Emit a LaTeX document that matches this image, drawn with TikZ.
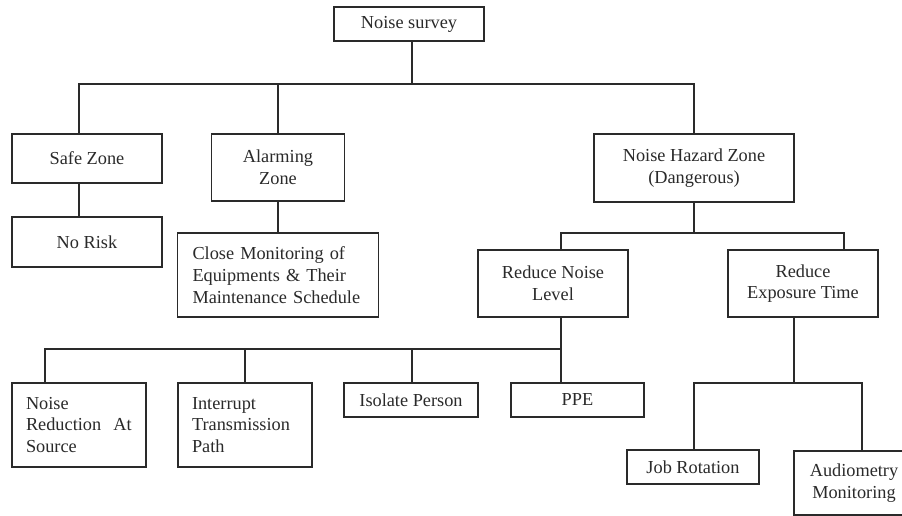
\documentclass[tikz,border=0pt]{standalone}
\usepackage{fontspec}
\setmainfont{Liberation Serif}
\definecolor{ink}{HTML}{2A2A2A}
\begin{document}
\begin{tikzpicture}[x=1pt,y=-1pt,
  box/.style={draw=ink, line width=1.5pt, text=ink, inner sep=0pt, align=center,
    font=\fontsize{18.3}{21.7}\selectfont},
  heavy/.style={line width=2pt},
  lbox/.style={box, align=left, inner xsep=15pt},
  conn/.style={draw=ink, line width=1.3pt}]
\useasboundingbox (0,0) rectangle (902,516);
\clip (0,0) rectangle (902,516);
\fill[white] (0,0) rectangle (902,516);

\node[box, minimum width=150pt, minimum height=34pt] (survey) at (409,24) {Noise survey};
\node[box, minimum width=150pt, minimum height=49pt] (safe) at (87,158.5) {Safe Zone};
\node[box, minimum width=133pt, minimum height=67pt] (alarm) at (278,167.5) {Alarming\\Zone};
\node[box, heavy, minimum width=200pt, minimum height=68pt] (hazard) at (694,168) {Noise Hazard Zone\\(Dangerous)};
\node[box, heavy, minimum width=150pt, minimum height=50pt] (norisk) at (87,242) {No Risk};
\node[lbox, text width=171pt, minimum height=84pt] (close) at (278,275) {Close Monitoring of\\Equipments \& Their\\Maintenance Schedule};
\node[box, minimum width=150pt, minimum height=67pt] (rnl) at (553,283.5) {Reduce Noise\\Level};
\node[box, minimum width=150pt, minimum height=67pt] (ret) at (803,283.5) {Reduce\\Exposure Time};
\node[lbox, text width=106pt, inner xsep=14pt, minimum height=84pt] (nras) at (79,425) {Noise\\Reduction\ \ At\\Source};
\node[lbox, text width=106pt, inner xsep=14pt, minimum height=84pt] (itp) at (245,425) {Interrupt\\Transmission\\Path};
\node[box, minimum width=134pt, minimum height=34pt] (iso) at (411,400) {Isolate Person};
\node[box, minimum width=133pt, minimum height=34pt] (ppe) at (577.5,400) {PPE};
\node[box, heavy, minimum width=132pt, minimum height=34pt] (job) at (693,467) {Job Rotation};
\node[box, heavy, minimum width=120pt, minimum height=64pt] (audio) at (854,483) {Audiometry\\Monitoring};

\coordinate (b1) at (412,84);
\coordinate (b2) at (694,233);
\coordinate (b3) at (561,349);
\coordinate (b4) at (794,383);

\draw[conn] ([xshift=3pt]survey.south) -- (b1);
\draw[conn] ([xshift=-8pt]safe.north) |- (b1);
\draw[conn] (alarm.north) |- (b1);
\draw[conn] (hazard.north) |- (b1);
\draw[conn] ([xshift=-8pt]safe.south) -- ([xshift=-8pt]norisk.north);
\draw[conn] (alarm.south) -- (close.north);

\draw[conn] (hazard.south) -- (b2);
\draw[conn] ([xshift=8pt]rnl.north) |- (b2);
\draw[conn] ([xshift=41pt]ret.north) |- (b2);

\draw[conn] ([xshift=8pt]rnl.south) -- ([xshift=-16.5pt]ppe.north);
\draw[conn] ([xshift=-34pt]nras.north) |- (b3);
\draw[conn] (itp.north) |- (b3);
\draw[conn] ([xshift=1pt]iso.north) |- (b3);

\draw[conn] ([xshift=-9pt]ret.south) -- (b4);
\draw[conn] ([xshift=1pt]job.north) |- (b4);
\draw[conn] ([xshift=8pt]audio.north) |- (b4);
\end{tikzpicture}
\end{document}
